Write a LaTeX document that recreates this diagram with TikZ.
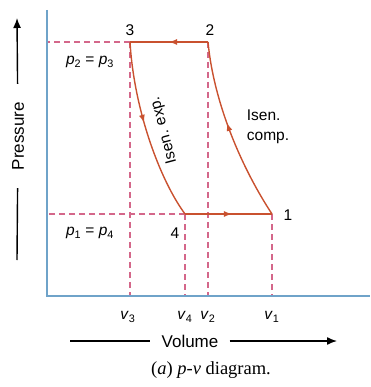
\documentclass[tikz,border=0pt]{standalone}
\usepackage{fontspec}
\setmainfont{Liberation Sans}
\newfontfamily\capfont{Liberation Serif}
\usetikzlibrary{arrows.meta, positioning, decorations.markings}
\definecolor{axisblue}{HTML}{6FA3C9}
\definecolor{cycleline}{HTML}{C9512F}
\definecolor{guideline}{HTML}{D4678A}

\begin{document}
\begin{tikzpicture}[
  x=1pt, y=-1pt,
  lbl/.style     = {font=\fontsize{15.5}{20}\selectfont, inner sep=1pt},
  axislbl/.style = {font=\fontsize{17}{20}\selectfont},
  guide/.style   = {dash pattern=on 6pt off 4pt, line width=1.3pt, color=guideline},
  axis/.style    = {line width=1.6pt, color=axisblue},
  process/.style = {line width=1.4pt, color=cycleline, postaction={decorate},
                    decoration={markings, mark=at position #1 with {\arrow{Latex[length=8pt,width=6pt]}}}},
  process/.default = 0.5,
  pointer/.style = {line width=1.4pt, -{Latex[length=10pt,width=8pt]}},
]
  \useasboundingbox (0,0) rectangle (370,387);

  \coordinate (ytop) at (47,10);
  \coordinate (o)    at (47,296);
  \coordinate (xend) at (370,296);

  \coordinate (s1) at (272,214);
  \coordinate (s2) at (208,42);
  \coordinate (s3) at (130,42);
  \coordinate (s4) at (185,214);

  \draw[guide] (s3) -- (s3 -| o);
  \draw[guide] (s4) -- (s4 -| o);
  \draw[guide] (s3) -- (s3 |- o);
  \draw[guide] (s4) -- (s4 |- o);
  \draw[guide] (s2) -- (s2 |- o);
  \draw[guide] (s1) -- (s1 |- o);

  \draw[axis] (ytop) -- (o) -- (xend);

  \draw[process]      (s2) -- (s3);
  \draw[process=0.45] (s3) .. controls (134,110) and (160,180) .. (s4);
  \draw[process=0.54] (s4) -- (s1);
  \draw[process=0.55] (s1) .. controls (243,170) and (214,105) .. (s2);

  \node[lbl] (n1) at (288,215) {1};
  \node[lbl] (n2) at (210,30)  {2};
  \node[lbl] (n3) at (130,30)  {3};
  \node[lbl] (n4) at (175,233) {4};

  \node[lbl] (p23) at (90,62)  {\textit{p}\textsubscript{2} = \textit{p}\textsubscript{3}};
  \node[lbl] (p14) at (90,233) {\textit{p}\textsubscript{1} = \textit{p}\textsubscript{4}};

  \node[lbl, align=left] (comp) at (268,127) {Isen.\\comp.};
  \node[lbl, rotate=105] (exp)  at (164,130) {Isen. exp.};

  \node[lbl] (v3) at (128,317) {\textit{v}\textsubscript{3}};
  \node[lbl] (v4) at (185,317) {\textit{v}\textsubscript{4}};
  \node[lbl] (v2) at (208,317) {\textit{v}\textsubscript{2}};
  \node[lbl] (v1) at (272,317) {\textit{v}\textsubscript{1}};

  \node[axislbl, inner xsep=11pt, inner ysep=0pt] (vol) at (190,341) {Volume};
  \coordinate (vleft)  at (70,341);
  \coordinate (vright) at (337,341);
  \draw[line width=1.4pt] (vleft) -- (vol);
  \draw[pointer] (vol) -- (vright);

  \node[axislbl, rotate=90, inner xsep=18pt, inner ysep=0pt] (pres) at (18,136) {Pressure};
  \coordinate (ptop) at (17,18);
  \coordinate (pbot) at (17,260);
  \draw[pointer] (pres) -- (ptop);
  \draw[line width=1.4pt] (pres) -- (pbot);

  \node[font=\capfont\fontsize{18.5}{22}\selectfont] (cap) at (211,370)
    {(\textit{a}) \textit{p}-\textit{v} diagram.};
\end{tikzpicture}
\end{document}
